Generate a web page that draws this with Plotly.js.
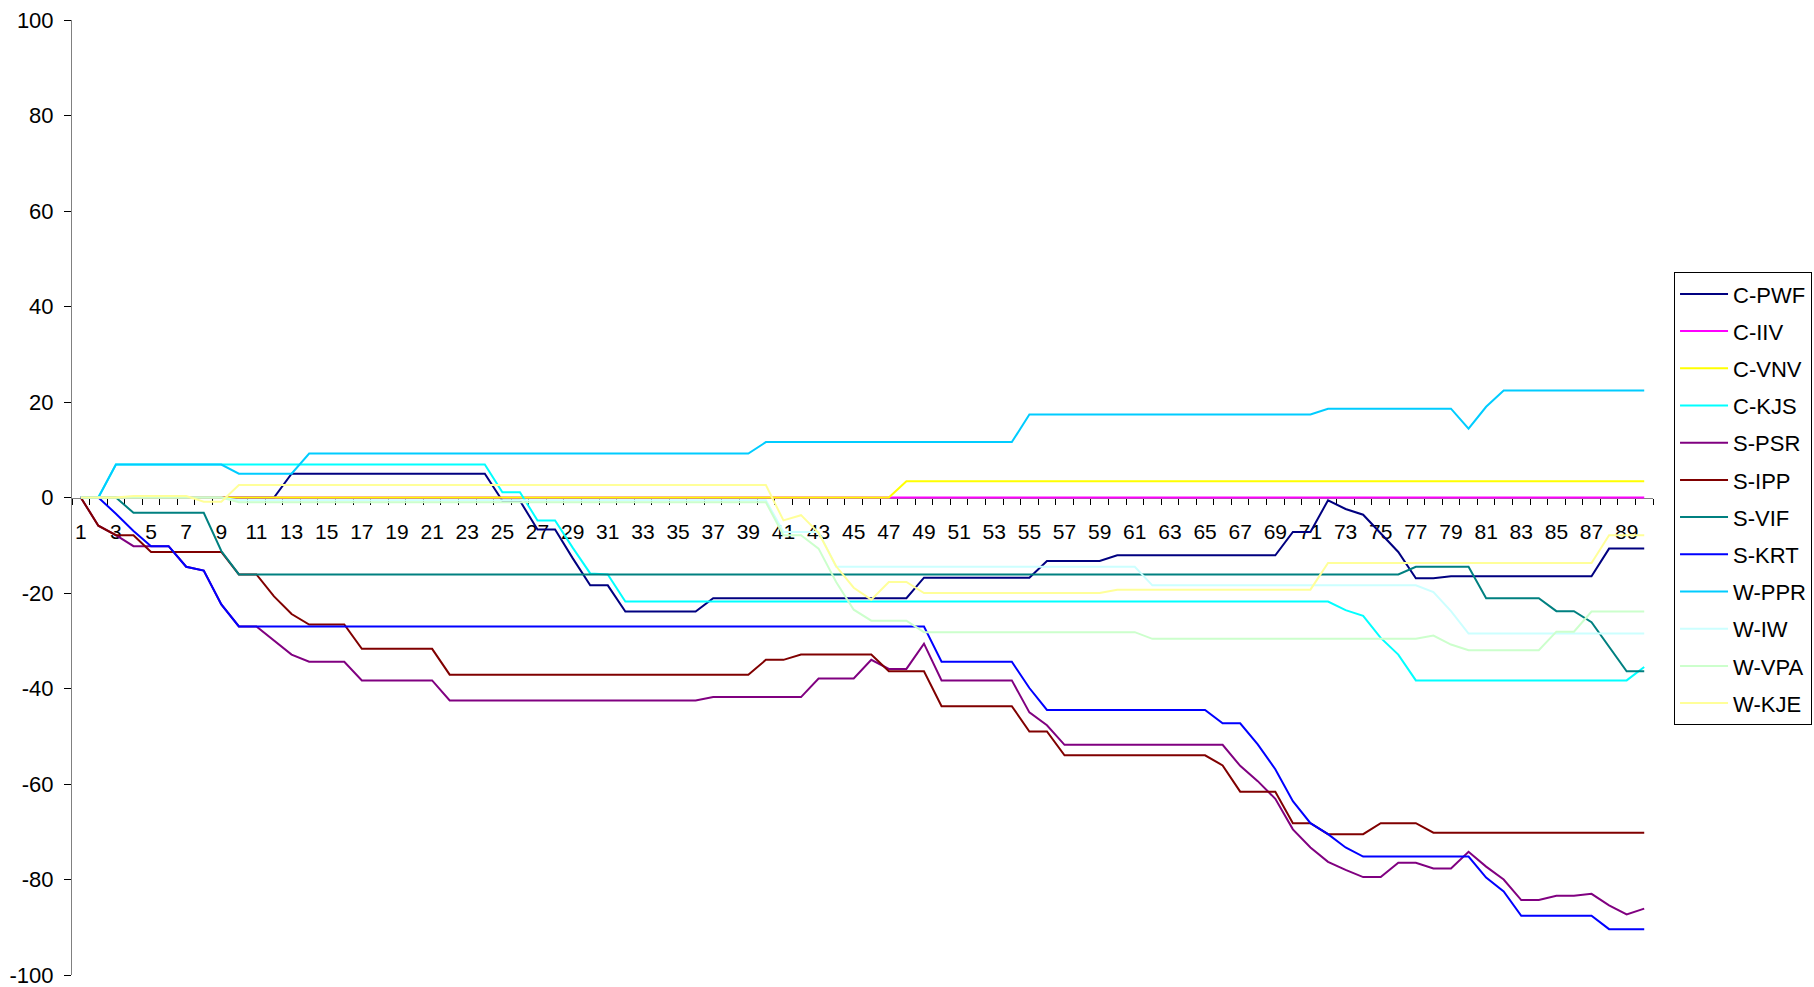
<!DOCTYPE html>
<html>
<head>
<meta charset="utf-8">
<script src="https://cdn.plot.ly/plotly-3.0.1.min.js"></script>
<style>html,body{margin:0;padding:0;background:#fff;}#chart{width:1814px;height:987px;}</style>
</head>
<body>
<div id="chart"></div>
<script>
const days = [1,2,3,4,5,6,7,8,9,10,11,12,13,14,15,16,17,18,19,20,21,22,23,24,25,26,27,28,29,30,31,32,33,34,35,36,37,38,39,40,41,42,43,44,45,46,47,48,49,50,51,52,53,54,55,56,57,58,59,60,61,62,63,64,65,66,67,68,69,70,71,72,73,74,75,76,77,78,79,80,81,82,83,84,85,86,87,88,89,90];
const tickLabels = ["1","3","5","7","9","11","13","15","17","19","21","23","25","27","29","31","33","35","37","39","41","43","45","47","49","51","53","55","57","59","61","63","65","67","69","71","73","75","77","79","81","83","85","87","89"];
const yTicks = [-100,-80,-60,-40,-20,0,20,40,60,80,100];
const yTickLabels = ["-100","-80","-60","-40","-20","0","20","40","60","80","100"];

const C_PWF = [0,0,0,0,0,0,0,0,0,0,0,0,5,5,5,5,5,5,5,5,5,5,5,5,-0.7,-0.7,-6.7,-6.7,-12.7,-18.4,-18.4,-23.9,-23.9,-23.9,-23.9,-23.9,-21.1,-21.1,-21.1,-21.1,-21.1,-21.1,-21.1,-21.1,-21.1,-21.1,-21.1,-21.1,-16.8,-16.8,-16.8,-16.8,-16.8,-16.8,-16.8,-13.3,-13.3,-13.3,-13.3,-12.1,-12.1,-12.1,-12.1,-12.1,-12.1,-12.1,-12.1,-12.1,-12.1,-7.2,-7.2,-0.6,-2.4,-3.6,-7.5,-11.4,-16.9,-16.9,-16.5,-16.5,-16.5,-16.5,-16.5,-16.5,-16.5,-16.5,-16.5,-10.7,-10.7,-10.7];
const C_IIV = [0,0,0,0,0,0,0,0,0,0,0,0,0,0,0,0,0,0,0,0,0,0,0,0,0,0,0,0,0,0,0,0,0,0,0,0,0,0,0,0,0,0,0,0,0,0,0,0,0,0,0,0,0,0,0,0,0,0,0,0,0,0,0,0,0,0,0,0,0,0,0,0,0,0,0,0,0,0,0,0,0,0,0,0,0,0,0,0,0,0];
const C_VNV = [0,0,0,0,0,0,0,0,0,0,0,0,0,0,0,0,0,0,0,0,0,0,0,0,0,0,0,0,0,0,0,0,0,0,0,0,0,0,0,0,0,0,0,0,0,0,0,3.4,3.4,3.4,3.4,3.4,3.4,3.4,3.4,3.4,3.4,3.4,3.4,3.4,3.4,3.4,3.4,3.4,3.4,3.4,3.4,3.4,3.4,3.4,3.4,3.4,3.4,3.4,3.4,3.4,3.4,3.4,3.4,3.4,3.4,3.4,3.4,3.4,3.4,3.4,3.4,3.4,3.4,3.4];
const C_KJS = [0,0,6.9,6.9,6.9,6.9,6.9,6.9,6.9,6.9,6.9,6.9,6.9,6.9,6.9,6.9,6.9,6.9,6.9,6.9,6.9,6.9,6.9,6.9,1.1,1.1,-4.8,-4.8,-10.5,-15.9,-16.1,-21.8,-21.8,-21.8,-21.8,-21.8,-21.8,-21.8,-21.8,-21.8,-21.8,-21.8,-21.8,-21.8,-21.8,-21.8,-21.8,-21.8,-21.8,-21.8,-21.8,-21.8,-21.8,-21.8,-21.8,-21.8,-21.8,-21.8,-21.8,-21.8,-21.8,-21.8,-21.8,-21.8,-21.8,-21.8,-21.8,-21.8,-21.8,-21.8,-21.8,-21.8,-23.6,-24.8,-29.4,-32.9,-38.3,-38.3,-38.3,-38.3,-38.3,-38.3,-38.3,-38.3,-38.3,-38.3,-38.3,-38.3,-38.3,-35.5];
const S_PSR = [0,-5.9,-7.9,-10.2,-10.2,-10.2,-14.5,-15.3,-22.4,-27.0,-27.0,-29.9,-32.9,-34.4,-34.4,-34.4,-38.3,-38.3,-38.3,-38.3,-38.3,-42.5,-42.5,-42.5,-42.5,-42.5,-42.5,-42.5,-42.5,-42.5,-42.5,-42.5,-42.5,-42.5,-42.5,-42.5,-41.8,-41.8,-41.8,-41.8,-41.8,-41.8,-37.9,-37.9,-37.9,-34.0,-35.9,-35.9,-30.6,-38.3,-38.3,-38.3,-38.3,-38.3,-45.0,-47.7,-51.8,-51.8,-51.8,-51.8,-51.8,-51.8,-51.8,-51.8,-51.8,-51.8,-56.2,-59.4,-63.1,-69.5,-73.3,-76.3,-78.0,-79.5,-79.5,-76.5,-76.5,-77.7,-77.7,-74.2,-77.3,-80.0,-84.3,-84.3,-83.4,-83.4,-83.0,-85.4,-87.3,-86.1];
const S_IPP = [0,-5.9,-7.9,-7.9,-11.4,-11.4,-11.4,-11.4,-11.4,-16.1,-16.1,-20.7,-24.4,-26.6,-26.6,-26.6,-31.7,-31.7,-31.7,-31.7,-31.7,-37.1,-37.1,-37.1,-37.1,-37.1,-37.1,-37.1,-37.1,-37.1,-37.1,-37.1,-37.1,-37.1,-37.1,-37.1,-37.1,-37.1,-37.1,-34.0,-34.0,-32.9,-32.9,-32.9,-32.9,-32.9,-36.4,-36.4,-36.4,-43.7,-43.7,-43.7,-43.7,-43.7,-49.0,-49.0,-54.0,-54.0,-54.0,-54.0,-54.0,-54.0,-54.0,-54.0,-54.0,-56.1,-61.6,-61.6,-61.6,-68.2,-68.2,-70.5,-70.5,-70.5,-68.2,-68.2,-68.2,-70.2,-70.2,-70.2,-70.2,-70.2,-70.2,-70.2,-70.2,-70.2,-70.2,-70.2,-70.2,-70.2];
const S_VIF = [0,0,0,-3.2,-3.2,-3.2,-3.2,-3.2,-11.2,-16.1,-16.1,-16.1,-16.1,-16.1,-16.1,-16.1,-16.1,-16.1,-16.1,-16.1,-16.1,-16.1,-16.1,-16.1,-16.1,-16.1,-16.1,-16.1,-16.1,-16.1,-16.1,-16.1,-16.1,-16.1,-16.1,-16.1,-16.1,-16.1,-16.1,-16.1,-16.1,-16.1,-16.1,-16.1,-16.1,-16.1,-16.1,-16.1,-16.1,-16.1,-16.1,-16.1,-16.1,-16.1,-16.1,-16.1,-16.1,-16.1,-16.1,-16.1,-16.1,-16.1,-16.1,-16.1,-16.1,-16.1,-16.1,-16.1,-16.1,-16.1,-16.1,-16.1,-16.1,-16.1,-16.1,-16.1,-14.5,-14.5,-14.5,-14.5,-21.1,-21.1,-21.1,-21.1,-23.8,-23.8,-26.1,-31.3,-36.4,-36.4];
const S_KRT = [0,0,-3.4,-7.0,-10.2,-10.2,-14.5,-15.3,-22.4,-27.0,-27.0,-27.0,-27.0,-27.0,-27.0,-27.0,-27.0,-27.0,-27.0,-27.0,-27.0,-27.0,-27.0,-27.0,-27.0,-27.0,-27.0,-27.0,-27.0,-27.0,-27.0,-27.0,-27.0,-27.0,-27.0,-27.0,-27.0,-27.0,-27.0,-27.0,-27.0,-27.0,-27.0,-27.0,-27.0,-27.0,-27.0,-27.0,-27.0,-34.4,-34.4,-34.4,-34.4,-34.4,-39.9,-44.5,-44.5,-44.5,-44.5,-44.5,-44.5,-44.5,-44.5,-44.5,-44.5,-47.3,-47.3,-51.7,-56.9,-63.6,-68.2,-70.5,-73.3,-75.2,-75.2,-75.2,-75.2,-75.2,-75.2,-75.2,-79.6,-82.5,-87.6,-87.6,-87.6,-87.6,-87.6,-90.4,-90.4,-90.4];
const W_PPR = [0,0,6.9,6.9,6.9,6.9,6.9,6.9,6.9,5.0,5.0,5.0,5.0,9.2,9.2,9.2,9.2,9.2,9.2,9.2,9.2,9.2,9.2,9.2,9.2,9.2,9.2,9.2,9.2,9.2,9.2,9.2,9.2,9.2,9.2,9.2,9.2,9.2,9.2,11.6,11.6,11.6,11.6,11.6,11.6,11.6,11.6,11.6,11.6,11.6,11.6,11.6,11.6,11.6,17.4,17.4,17.4,17.4,17.4,17.4,17.4,17.4,17.4,17.4,17.4,17.4,17.4,17.4,17.4,17.4,17.4,18.6,18.6,18.6,18.6,18.6,18.6,18.6,18.6,14.4,19.0,22.4,22.4,22.4,22.4,22.4,22.4,22.4,22.4,22.4];
const W_IW = [0,0,0,0,0,0,0,0,0,-0.6,-0.6,-0.6,-0.6,-0.6,-0.6,-0.6,-0.6,-0.6,-0.6,-0.6,-0.6,-0.6,-0.6,-0.6,-0.6,-0.6,-0.6,-0.6,-0.6,-0.6,-0.6,-0.6,-0.6,-0.6,-0.6,-0.6,-0.6,-0.6,-0.6,-0.6,-7.2,-7.2,-7.2,-14.5,-14.5,-14.5,-14.5,-14.5,-14.5,-14.5,-14.5,-14.5,-14.5,-14.5,-14.5,-14.5,-14.5,-14.5,-14.5,-14.5,-14.5,-18.4,-18.4,-18.4,-18.4,-18.4,-18.4,-18.4,-18.4,-18.4,-18.4,-18.4,-18.4,-18.4,-18.4,-18.4,-18.4,-19.8,-23.8,-28.5,-28.5,-28.5,-28.5,-28.5,-28.5,-28.5,-28.5,-28.5,-28.5,-28.5];
const W_VPA = [0,0,0,0,0,0,0,0,0,-1.0,-1.0,-1.0,-1.0,-1.0,-1.0,-1.0,-1.0,-1.0,-1.0,-1.0,-1.0,-1.0,-1.0,-1.0,-1.0,-1.0,-1.0,-1.0,-1.0,-1.0,-1.0,-1.0,-1.0,-1.0,-1.0,-1.0,-1.0,-1.0,-1.0,-1.0,-7.9,-7.9,-10.7,-17.7,-23.5,-25.8,-25.8,-25.8,-28.2,-28.2,-28.2,-28.2,-28.2,-28.2,-28.2,-28.2,-28.2,-28.2,-28.2,-28.2,-28.2,-29.6,-29.6,-29.6,-29.6,-29.6,-29.6,-29.6,-29.6,-29.6,-29.6,-29.6,-29.6,-29.6,-29.6,-29.6,-29.6,-28.9,-30.8,-32.0,-32.0,-32.0,-32.0,-32.0,-28.1,-28.1,-23.9,-23.9,-23.9,-23.9];
const W_KJE = [0,0,0,0.3,0.3,0.3,0.3,-0.9,-0.9,2.6,2.6,2.6,2.6,2.6,2.6,2.6,2.6,2.6,2.6,2.6,2.6,2.6,2.6,2.6,2.6,2.6,2.6,2.6,2.6,2.6,2.6,2.6,2.6,2.6,2.6,2.6,2.6,2.6,2.6,2.6,-4.8,-3.7,-7.4,-14.4,-18.9,-21.4,-17.7,-17.7,-20.0,-20.0,-20.0,-20.0,-20.0,-20.0,-20.0,-20.0,-20.0,-20.0,-20.0,-19.3,-19.3,-19.3,-19.3,-19.3,-19.3,-19.3,-19.3,-19.3,-19.3,-19.3,-19.3,-13.7,-13.7,-13.7,-13.7,-13.7,-13.7,-13.7,-13.7,-13.7,-13.7,-13.7,-13.7,-13.7,-13.7,-13.7,-13.7,-7.9,-7.9,-7.9];

const seriesNames = ["C-PWF","C-IIV","C-VNV","C-KJS","S-PSR","S-IPP","S-VIF","S-KRT","W-PPR","W-IW","W-VPA","W-KJE"];
const seriesValues = [C_PWF,C_IIV,C_VNV,C_KJS,S_PSR,S_IPP,S_VIF,S_KRT,W_PPR,W_IW,W_VPA,W_KJE];
const seriesColors = ["#000080","#FF00FF","#FFFF00","#00FFFF","#800080","#800000","#008080","#0000FF","#00CCFF","#CCFFFF","#CCFFCC","#FFFF99"];

const FONT = "Liberation Sans, Arial, sans-serif";
const tickVals = days.filter(d => d % 2 === 1);

const traces = seriesNames.map((name, k) => ({
  type: "scatter",
  mode: "lines",
  name: name,
  legendgroup: name,
  x: days,
  y: seriesValues[k],
  line: {color: seriesColors[k], width: 2},
  hoverinfo: "x+y+name"
}));

const layout = {
  width: 1814,
  height: 987,
  paper_bgcolor: "#fff",
  plot_bgcolor: "#fff",
  font: {family: FONT, size: 21, color: "#000"},
  margin: {l: 72, r: 161, t: 20, b: 12, pad: 0, autoexpand: false},
  showlegend: true,
  xaxis: {
    type: "linear",
    range: [0.5, 90.5],
    anchor: "free",
    position: 0.5,
    layer: "below traces",
    showline: true,
    linecolor: "#808080",
    linewidth: 1,
    showgrid: false,
    zeroline: false,
    automargin: false,
    tickmode: "array",
    tickvals: tickVals,
    ticktext: tickLabels,
    ticks: "",
    ticklabelstandoff: 15,
    ticklabeloverflow: "allow",
    tickfont: {family: FONT, size: 21, color: "#000"},
    minor: {tickmode: "linear", tick0: 0.5, dtick: 1, ticks: "outside", ticklen: 6, tickwidth: 1, tickcolor: "#000", showgrid: false}
  },
  yaxis: {
    range: [-100, 100],
    tickmode: "array",
    tickvals: yTicks,
    ticktext: yTickLabels,
    ticks: "outside",
    ticklen: 7,
    tickwidth: 1,
    tickcolor: "#000",
    showline: true,
    linecolor: "#808080",
    linewidth: 1,
    showgrid: false,
    zeroline: false,
    automargin: false,
    layer: "below traces",
    ticklabelstandoff: 6,
    ticklabeloverflow: "allow",
    tickfont: {family: FONT, size: 22, color: "#000"}
  },
  legend: {
    x: 1.0133,
    y: 0.736,
    xanchor: "left",
    yanchor: "top",
    bgcolor: "#fff",
    bordercolor: "#000",
    borderwidth: 1,
    itemwidth: 48,
    font: {family: FONT, size: 22, color: "#000"},
    tracegroupgap: 5.6,
    itemclick: false,
    itemdoubleclick: false
  }
};

Plotly.newPlot("chart", traces, layout, {displayModeBar: false, staticPlot: true});
</script>
</body>
</html>
